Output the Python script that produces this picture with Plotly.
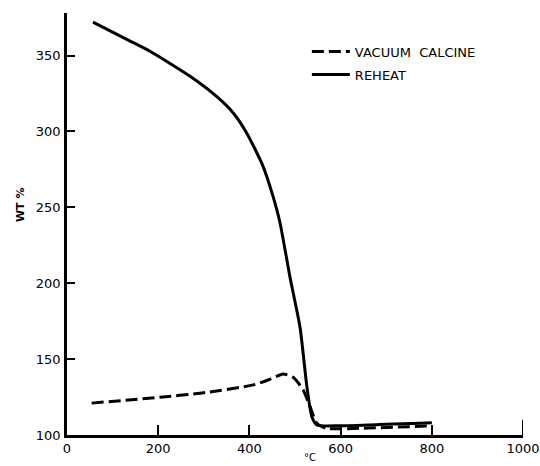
import plotly.graph_objects as go

# Reheat (solid) curve
reheat_temp = [57, 131, 182, 270, 328, 365, 394, 430, 452, 467, 489, 511, 526, 537, 548, 599, 700, 774, 800]
reheat_wt = [372, 360.6, 352.8, 336.3, 323, 312, 299, 277, 257, 240, 204, 171, 132, 112, 106.6, 106.1, 107, 107.7, 108]

# Vacuum calcine (dashed) curve
vac_temp = [54, 204, 292, 409, 445, 474, 496, 518, 533, 548, 569, 650, 800]
vac_wt = [121, 124.9, 127.5, 133, 136.7, 140.2, 138, 129.7, 118.7, 107.7, 104.4, 104.5, 106]

x_ticks = [0, 200, 400, 600, 800, 1000]
y_ticks = [100, 150, 200, 250, 300, 350]

font_fam = "DejaVu Sans, Liberation Sans, sans-serif"

fig = go.Figure()
fig.add_trace(go.Scatter(x=vac_temp, y=vac_wt, mode="lines", name="VACUUM  CALCINE",
                         legendgroup="a",
                         line=dict(color="black", width=3, dash="12px,5px",
                                   shape="spline", smoothing=0.6)))
fig.add_trace(go.Scatter(x=reheat_temp, y=reheat_wt, mode="lines", name="REHEAT",
                         legendgroup="b",
                         line=dict(color="black", width=3, shape="spline", smoothing=0.6)))

fig.update_layout(
    width=540, height=466,
    margin=dict(l=67, r=17, t=13, b=31, autoexpand=False),
    paper_bgcolor="white", plot_bgcolor="white",
    font=dict(family=font_fam, size=12, color="black"),
    showlegend=True,
    legend=dict(x=0.526, y=0.944, xanchor="left", yanchor="top",
                bgcolor="rgba(0,0,0,0)", font=dict(size=13),
                itemwidth=38, tracegroupgap=3),
    xaxis=dict(range=[0, 1000], tickvals=x_ticks, ticktext=[str(v) for v in x_ticks],
               ticks="inside", ticklen=10, tickwidth=2, tickcolor="black",
               showline=True, linecolor="black", linewidth=2.5, automargin=False,
               showgrid=False, zeroline=False, tickfont=dict(size=13),
               ticklabeloverflow="allow"),
    yaxis=dict(range=[100, 378], tickvals=y_ticks, ticktext=[str(v) for v in y_ticks],
               ticks="inside", ticklen=8, tickwidth=2, tickcolor="black",
               showline=True, linecolor="black", linewidth=2.5, automargin=False,
               showgrid=False, zeroline=False, tickfont=dict(size=13),
               ticklabelstandoff=1),
    shapes=[dict(type="line", xref="x", yref="paper", x0=1000, x1=1000, y0=0, y1=0.036,
                 line=dict(color="black", width=2))],
    annotations=[
        dict(text="°C", x=0.533, y=-0.036, xref="paper", yref="paper",
             xanchor="center", yanchor="top", showarrow=False, font=dict(size=10)),
        dict(text="<b>WT %</b>", x=0, y=0.545, xref="paper", yref="paper",
             xanchor="center", yanchor="middle", xshift=-47, textangle=-90,
             showarrow=False, font=dict(size=11)),
    ],
)

fig.write_html("out.html", config={"displayModeBar": False},
               post_script="document.body.style.margin='0';document.body.style.overflow='hidden';")
